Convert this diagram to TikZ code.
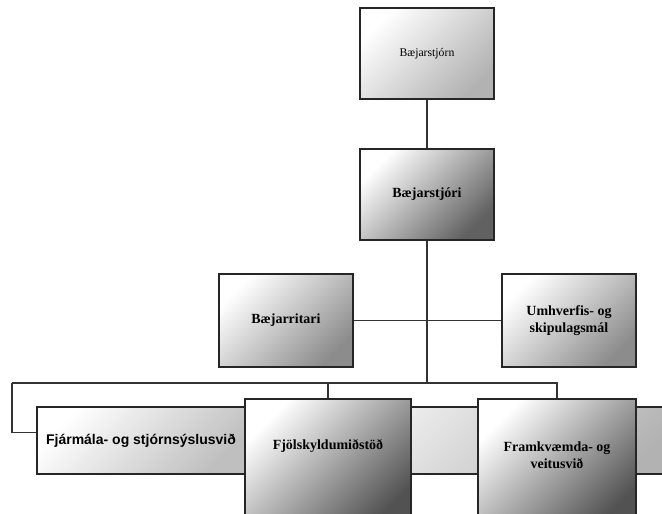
\documentclass[tikz,border=0pt]{standalone}
\usepackage{fontspec}
\setmainfont{Liberation Serif}
\setsansfont{Liberation Sans}
\usetikzlibrary{positioning}

\begin{document}
\begin{tikzpicture}[x=0.75pt,y=-0.75pt,
  box/.style={draw=black!85,line width=1.3pt,inner sep=0pt,top color=white,bottom color=#1,shading angle=45,align=center,font=\bfseries\fontsize{10.5}{13}\selectfont},
  box/.default=black!45,
  boxsize/.style 2 args={minimum width=#1*0.75pt,minimum height=#2*0.75pt},
  lbl/.style={align=center,font=\bfseries\fontsize{10.5}{13}\selectfont},
  line/.style={draw=black!80,line width=1.1pt}]
\useasboundingbox (0,0) rectangle (662,514);
\clip (0,0) rectangle (662,514);

\node[box=black!30,boxsize={134}{91},font=\fontsize{8.8}{10}\selectfont] (stjorn) at (427,53.5) {Bæjarstjórn};
\node[box=black!62,boxsize={134}{91}] (stjori) at (427,194.5) {Bæjarstjóri};
\node[box,boxsize={134}{93}] (ritari) at (286,320.5) {Bæjarritari};
\node[box,boxsize={134}{93}] (umhv) at (569,320.5) {Umhverfis- og\\skipulagsmál};

\draw[box=black!30] (245,407) rectangle (700,474);
\node[box=black!25,boxsize={208}{67},font=\sffamily\bfseries\fontsize{10.5}{13}\selectfont] (fjarm) at (141,440.5) {Fjármála- og stjórnsýslusvið};
\node[box=black!68,boxsize={166}{131}] (fjol) at (328,464.5) {};
\node[box=black!68,boxsize={158}{131}] (framk) at (557,464.5) {};
\node[lbl] (fjoltxt) at (328,446) {Fjölskyldumiðstöð};
\node[lbl] (framktxt) at (557,455) {Framkvæmda- og\\veitusvið};

\coordinate (busL) at (12,383);
\coordinate (busM) at (stjori.south |- busL);
\draw[line] (stjorn) -- (stjori);
\draw[line] (stjori) -- (busM);
\draw[line] (ritari) -- (umhv);
\draw[line] (busL) -- (framk.north |- busL) -- (framk.north);
\draw[line] (fjol.north |- busL) -- (fjol.north);
\draw[line] (busL) |- ([yshift=6pt]fjarm.west);
\end{tikzpicture}
\end{document}
